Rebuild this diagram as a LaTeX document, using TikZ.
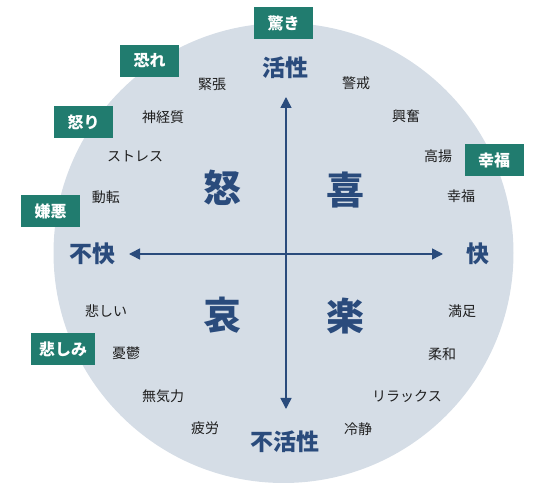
\documentclass[tikz,border=0pt]{standalone}
\usepackage{fontspec}
\setmainfont{Noto Sans CJK JP}
\usetikzlibrary{arrows.meta,positioning}
\definecolor{cFill}{HTML}{D5DDE6}
\definecolor{cNavy}{HTML}{2A4B7C}
\definecolor{cTeal}{HTML}{217C6F}
\definecolor{cText}{HTML}{1E1E1E}

\begin{document}
\begin{tikzpicture}[x=1pt,y=-1pt,
  word/.style={font=\fontsize{14}{14}\selectfont,text=cText,inner sep=1pt},
  tag/.style={fill=cTeal,text=white,font=\fontsize{16}{16}\selectfont\bfseries,
    minimum height=32pt,minimum width=59pt,inner xsep=8pt},
  axislbl/.style={text=cNavy,font=\fontsize{23}{23}\selectfont\bfseries},
  quad/.style={text=cNavy,font=\fontsize{38}{38}\selectfont\bfseries}]
  \useasboundingbox (0,0) rectangle (550,492);
  \fill[cFill] (283.5,253) circle[radius=230pt];
  % axes
  \coordinate (aT) at (286,97);
  \coordinate (aB) at (286,409);
  \coordinate (aL) at (129,254);
  \coordinate (aR) at (443,254);
  \draw[cNavy,line width=1.6pt,{Triangle[width=11pt,length=11pt]}-{Triangle[width=11pt,length=11pt]}] (aB) -- (aT);
  \draw[cNavy,line width=1.6pt,{Triangle[width=11pt,length=11pt]}-{Triangle[width=11pt,length=11pt]}] (aL) -- (aR);
  \node[axislbl] (act) at (285,68) {活性};
  \node[axislbl] (inact) at (285,442) {不活性};
  \node[axislbl] (unpl) at (93,254) {不快};
  \node[axislbl] (pl) at (478,254) {快};
  % quadrants
  \node[quad] (qAnger) at (222,188) {怒};
  \node[quad] (qJoy) at (345,190) {喜};
  \node[quad] (qSad) at (222,315) {哀};
  \node[quad] (qEase) at (345,316) {楽};
  % feelings
  \foreach \x/\y/\t in {212/84/緊張, 163/117/神経質, 135/156/ストレス, 106/197/動転,
      356/83/警戒, 406/116/興奮, 438/156/高揚, 461/196/幸福,
      106/311/悲しい, 126/353/憂鬱, 163/396/無気力, 205/428/疲労,
      462/311/満足, 442/354/柔和, 407/396/リラックス, 358/429/冷静}
    \node[word] at (\x,\y) {\t};
  % emotion tags
  \node[tag] (tSurp) at (283.5,23) {驚き};
  \node[tag] (tFear) at (149.5,61) {恐れ};
  \node[tag] (tAng) at (83.5,122) {怒り};
  \node[tag] (tDisg) at (50.5,211) {嫌悪};
  \node[tag] (tHap) at (494,160.5) {幸福};
  \node[tag] (tSad) at (63,349.5) {悲しみ};
\end{tikzpicture}
\end{document}
